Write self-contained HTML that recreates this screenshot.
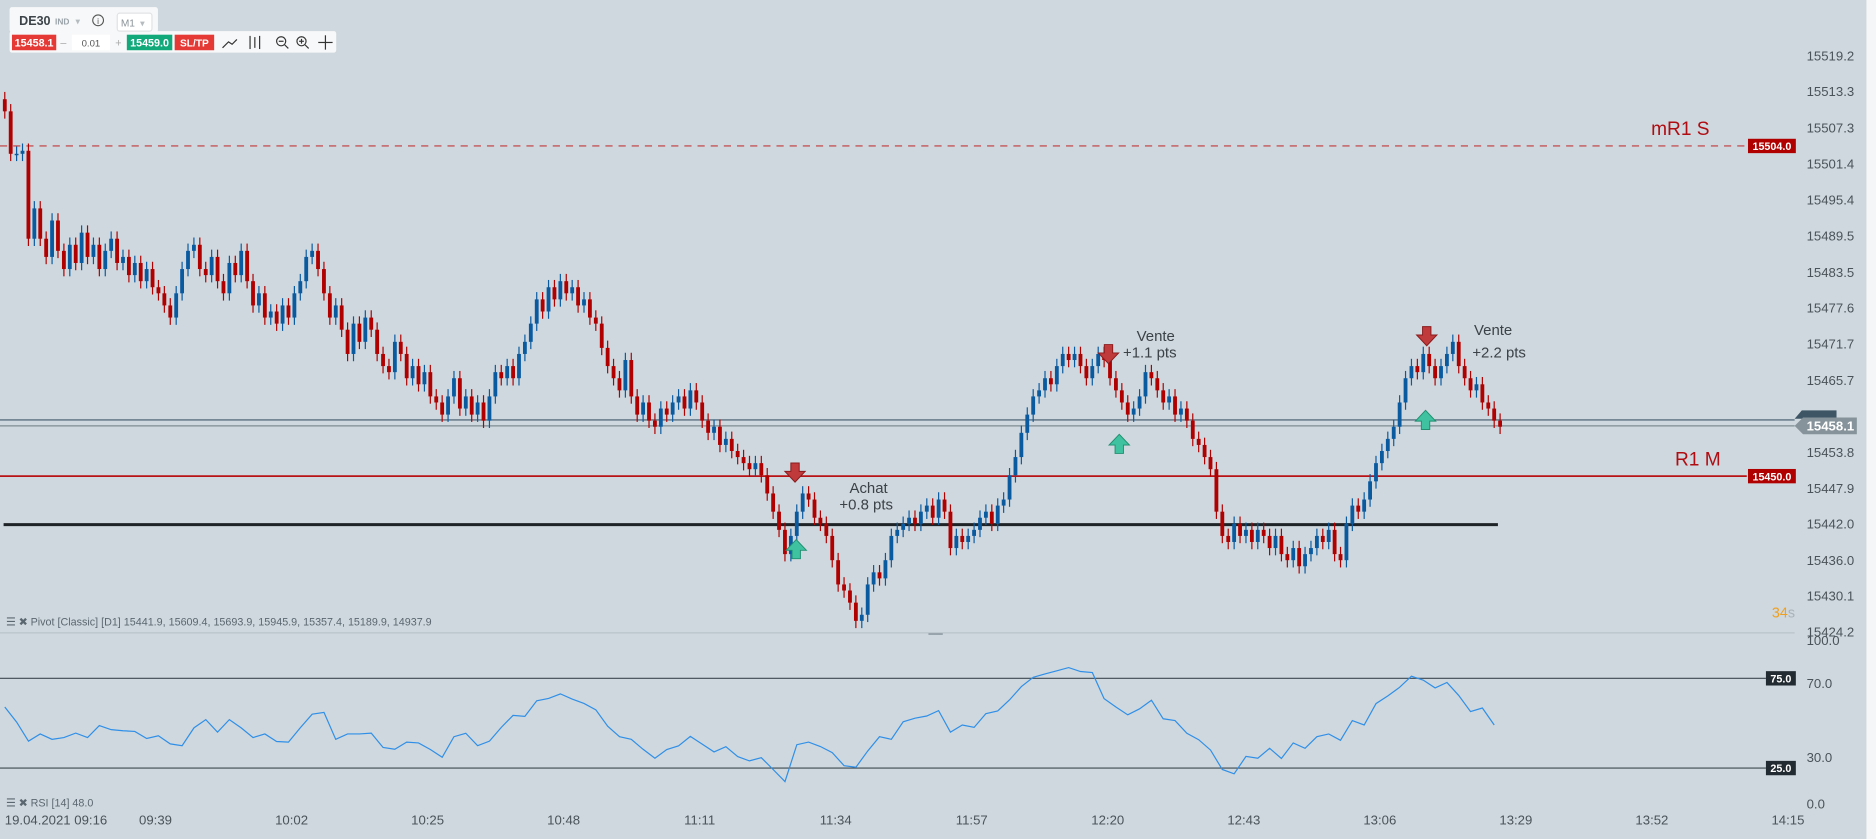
<!DOCTYPE html>
<html><head><meta charset="utf-8"><style>
html,body{margin:0;padding:0;background:#cfd8de;overflow:hidden}
svg{display:block;font-family:"Liberation Sans",sans-serif}
</style></head><body>
<svg id="chart" width="1876" height="839" viewBox="0 0 1568 701.3" preserveAspectRatio="none" xmlns="http://www.w3.org/2000/svg">
<rect x="0" y="0" width="1568" height="702" fill="#cfd8de"/>
<rect x="1560" y="0" width="8" height="702" fill="#f4f6f8"/>
<line x1="0" y1="529" x2="1500" y2="529" stroke="#b9c3ca" stroke-width="1"/>
<line x1="776" y1="530" x2="788" y2="530" stroke="#7d8a93" stroke-width="1"/>
<g id="yaxis"></g>
<g id="xaxis"></g>
<g id="levels">
 <line x1="0" y1="122" x2="1460" y2="122" stroke="#c0393b" stroke-width="1" stroke-dasharray="6,5"/>
 <text x="1380" y="113" font-size="16" fill="#b00d12">mR1 S</text>
 <rect x="1461" y="116" width="40" height="12" fill="#b00000"/>
 <text x="1481" y="125.5" font-size="9" font-weight="bold" fill="#fff" text-anchor="middle">15504.0</text>
 <line x1="0" y1="398" x2="1460" y2="398" stroke="#b81216" stroke-width="1.5"/>
 <text x="1400" y="389" font-size="16" fill="#b00d12">R1 M</text>
 <rect x="1461" y="392" width="40" height="12" fill="#b00000"/>
 <text x="1481" y="401.5" font-size="9" font-weight="bold" fill="#fff" text-anchor="middle">15450.0</text>
 <line x1="3" y1="438.5" x2="1252" y2="438.5" stroke="#1e2327" stroke-width="2.5"/>
 <line x1="0" y1="351" x2="1500" y2="351" stroke="#40596a" stroke-width="1"/>
 <line x1="0" y1="356" x2="1500" y2="356" stroke="#7f8d94" stroke-width="1"/>
 <polygon points="1500,350 1506,343 1535,343 1535,350" fill="#3e5566"/>
 <polygon points="1500,356 1507,349 1552,349 1552,363 1507,363" fill="#86939a"/>
 <text x="1510" y="360" font-size="11" font-weight="bold" fill="#fff">15458.1</text>
</g>
<g id="candles"></g>
<g id="annotations">
 <g fill="#c0393b" stroke="#8a1a1c" stroke-width="0.8">
  <path d="M661,387 h7 v7 h5 l-8.5,9 l-8.5,-9 h5z"/>
  <path d="M923,288 h7 v7 h5 l-8.5,9 l-8.5,-9 h5z"/>
  <path d="M1189,273 h7 v7 h5 l-8.5,9 l-8.5,-9 h5z"/>
 </g>
 <g fill="#3fc2a0" stroke="#1f8f70" stroke-width="0.8">
  <path d="M662,467 h7 v-7 h5 l-8.5,-9 l-8.5,9 h5z"/>
  <path d="M932,379 h7 v-7 h5 l-8.5,-9 l-8.5,9 h5z"/>
  <path d="M1188,359 h7 v-7 h5 l-8.5,-9 l-8.5,9 h5z"/>
 </g>
 <g font-size="12.5" fill="#3b4248" text-anchor="middle">
  <text x="726" y="412">Achat</text>
  <text x="724" y="426">+0.8 pts</text>
  <text x="966" y="285">Vente</text>
  <text x="961" y="299">+1.1 pts</text>
  <text x="1248" y="280">Vente</text>
  <text x="1253" y="299">+2.2 pts</text>
 </g>
</g>
<text x="5" y="523" font-size="9" fill="#5b6770">☰ ✖ Pivot [Classic] [D1] 15441.9, 15609.4, 15693.9, 15945.9, 15357.4, 15189.9, 14937.9</text>
<text x="1481" y="516" font-size="12" fill="#f0a020">34<tspan fill="#a9b2b8">s</tspan></text>
<g id="rsi">
 <line x1="0" y1="567" x2="1476" y2="567" stroke="#3d4850" stroke-width="1"/>
 <line x1="0" y1="642" x2="1476" y2="642" stroke="#3d4850" stroke-width="1"/>
 <rect x="1476" y="561" width="25" height="12" fill="#222b31"/>
 <text x="1488.5" y="570.5" font-size="9" font-weight="bold" fill="#fff" text-anchor="middle">75.0</text>
 <rect x="1476" y="636" width="25" height="12" fill="#222b31"/>
 <text x="1488.5" y="645.5" font-size="9" font-weight="bold" fill="#fff" text-anchor="middle">25.0</text>
 <text x="1510" y="539" font-size="11" fill="#4a5359">100.0</text>
 <text x="1510" y="575" font-size="11" fill="#4a5359">70.0</text>
 <text x="1510" y="637" font-size="11" fill="#4a5359">30.0</text>
 <text x="1510" y="676" font-size="11" fill="#4a5359">0.0</text>
 <text x="5" y="674" font-size="9" fill="#5b6770">☰ ✖ RSI [14] 48.0</text>
</g>
<g id="toolbar">
 <rect x="8" y="6" width="124" height="21" rx="2" fill="#f7f8f9"/>
 <rect x="8" y="26" width="273" height="18" rx="2" fill="#f7f8f9"/>
 <text x="16" y="21" font-size="10.5" font-weight="bold" fill="#3c4449">DE30</text>
 <text x="46" y="20.5" font-size="7" font-weight="bold" fill="#9aa3a9">IND</text>
 <text x="63" y="20.5" font-size="8" fill="#b5bcc0">▾</text>
 <circle cx="82" cy="17" r="4.5" fill="none" stroke="#555" stroke-width="0.9"/>
 <text x="82" y="20" font-size="7" fill="#555" text-anchor="middle">i</text>
 <rect x="98" y="11" width="29" height="15" rx="2" fill="#fff" stroke="#e0e3e5"/>
 <text x="101" y="22" font-size="8.5" fill="#8a9399">M1</text>
 <text x="117" y="22" font-size="8" fill="#b5bcc0">▾</text>
 <rect x="10" y="29" width="37" height="13" fill="#e53935"/>
 <text x="28.5" y="38.8" font-size="9" font-weight="bold" fill="#fff" text-anchor="middle">15458.1</text>
 <text x="53" y="38.8" font-size="9" fill="#aaa" text-anchor="middle">–</text>
 <rect x="60" y="29" width="32" height="13" fill="#fff"/>
 <text x="76" y="38.8" font-size="8" fill="#555" text-anchor="middle">0.01</text>
 <text x="99" y="38.8" font-size="9" fill="#aaa" text-anchor="middle">+</text>
 <rect x="106" y="29" width="38" height="13" fill="#11a97a"/>
 <text x="125" y="38.8" font-size="9" font-weight="bold" fill="#fff" text-anchor="middle">15459.0</text>
 <rect x="146" y="29" width="33" height="13" fill="#e53935"/>
 <text x="162.5" y="38.8" font-size="8.5" font-weight="bold" fill="#fff" text-anchor="middle">SL/TP</text>
 <polyline points="186,40 191,35 194,37 198,33" fill="none" stroke="#333" stroke-width="1"/>
 <g stroke="#333" stroke-width="1"><line x1="209" y1="30" x2="209" y2="41"/><line x1="213" y1="31" x2="213" y2="40"/><line x1="217" y1="30" x2="217" y2="41"/></g>
 <g fill="none" stroke="#333" stroke-width="1">
  <g><circle cx="235" cy="34.5" r="3.8"/><line x1="238" y1="37.5" x2="241" y2="40.5"/><line x1="233" y1="34.5" x2="237" y2="34.5"/></g>
  <g><circle cx="252" cy="34.5" r="3.8"/><line x1="255" y1="37.5" x2="258" y2="40.5"/><line x1="250" y1="34.5" x2="254" y2="34.5"/><line x1="252" y1="32.5" x2="252" y2="36.5"/></g>
  <g><line x1="266" y1="35.5" x2="278" y2="35.5"/><line x1="272" y1="29.5" x2="272" y2="41.5"/></g>
 </g>
</g>
</svg>
<script>
// price data (one candle per minute, close prices)
const closes = [15510,15503,15503,15503.5,15489,15494,15489,15486,15492,15487,15484,
15488,15485,15490,15486,15488,15484,15487,15489,15485,15486,15483,15485,15482,15484,15481,
15480,15478,15476,15480,15484,15487,15488,15484,15483,15486,15482,15480,15485,15483,15487,
15482,15478,15480,15476,15477,15475,15478,15476,15480,15482,15486,15487,15484,15480,
15476,15478,15474,15470,15475,15472,15476,15474,15470,15468,15467,15472,
15470,15466,15468,15465,15467,15463,15462,15460,15463,15466,15461,15463,
15460,15462,15459,15463,15467,15466,15468,15466,15470,15472,15475,15479,
15477,15481,15479,15482,15480,15481,15478,15479,15476,15475,15471,15468,
15466,15464,15469,15463,15460,15462,15459,15458,15461,15460,15462,15463,
15461,15464,15462,15459,15457,15458,15455,15456,15454,15453,15452,15451,
15452,15450,15447,15444,15441,15437,15440,15444,15447,15446,15443,15442,
15440,15436,15432,15431,15429,15426,15427,15432,15434,15433,15436,15440,
15441,15442,15443,15442,15444,15445,15443,15446,15444,15438,15440,15439,
15440,15441,15443,15444,15442,15445,15446,15450,15453,15457,15460,15463,
15464,15466,15465,15468,15470,15469,15470,15468,15466,15468,15470,15469,
15466,15464,15462,15460,15461,15463,15467,15466,15464,15462,15463,15460,
15461,15459,15456,15455,15453,15451,15444,15440,15439,15442,15440,15441,
15439,15441,15440,15438,15440,15437,15436,15438,15435,15437,15438,15440,
15439,15441,15437,15436,15442,15445,15444,15446,15449,15452,15454,15456,
15458,15462,15466,15468,15467,15470,15468,15466,15468,15470,15472,15468,
15466,15464,15465,15462,15461,15459,15458];
const openFirst = 15512;
const wick = 1.2;
// RSI sampled every 2 candles
const rsiValues = [59,50.6,40,44,41,42,44.5,42,48.7,46.4,45.8,45.4,41.5,43,38.5,37.5,47.4,52,45,52,
47.4,42,44,39.8,39.5,47.5,55,56,41,44,44,44.5,36.5,35.5,39.5,39,35.3,31,42.5,44.4,
37.5,40,47.7,54.3,53.8,62.5,63.8,66.3,63.5,61,57.5,48.3,42.5,41,35.5,30.5,35.3,37.4,42.7,38.3,
34,36.9,31.4,29,30.8,24.2,17.5,38,39.5,37,33.6,26.3,25.5,34.5,42.5,41,50.8,52.8,54,57,
45,49,47.7,55.3,56.8,63,70.4,75.6,77.5,79.2,81,78.8,78.2,63.7,59,54.7,58,62.8,52.5,51.5,
44.4,40.8,35,24.2,21.8,31.5,30.5,36,30.3,39,36,42.5,44,40.5,51.5,49,60.9,65.2,70,76.2,
74,69.7,72.7,65.5,56.5,58.5,49];
const rsiStep = 2;
const priceTicks = ["15519.2","15513.3","15507.3","15501.4","15495.4","15489.5","15483.5","15477.6","15471.7","15465.7","15453.8","15447.9","15442.0","15436.0","15430.1","15424.2"];
const timeTicks = ["09:39","10:02","10:25","10:48","11:11","11:34","11:57","12:20","12:43","13:06","13:29","13:52","14:15"];

const NS="http://www.w3.org/2000/svg";
const x0=4, dx=4.94;
const xs=i=>x0+i*dx;
const yp=p=>378+(15453.8-p)*5.07;
const yr=v=>679.5-v*1.5;
const timeX=k=>130+k*113.7;
function mk(tag,attrs,parent){const e=document.createElementNS(NS,tag);for(const k in attrs)e.setAttribute(k,attrs[k]);parent.appendChild(e);return e;}

const ya=document.getElementById('yaxis');
priceTicks.forEach(t=>{
 const e=mk('text',{x:1510,y:yp(parseFloat(t))+4,'font-size':11,fill:'#4a5359'},ya);
 
 
 e.textContent=t;
});
const xa=document.getElementById('xaxis');
const d0=mk('text',{x:4,y:689,'font-size':11,fill:'#4a5359'},xa);


d0.textContent='19.04.2021 09:16';
timeTicks.forEach((t,k)=>{
 const e=mk('text',{x:timeX(k),y:689,'font-size':11,fill:'#4a5359','text-anchor':'middle'},xa);
 
 
 e.textContent=t;
});

const cg=document.getElementById('candles');
closes.forEach((c,i)=>{
 const o=i===0?openFirst:closes[i-1];
 const col=c>=o?'#0a5aa0':'#b00000';
 const hi=Math.max(o,c)+wick, lo=Math.min(o,c)-wick;
 const w=mk('line',{x1:xs(i),x2:xs(i),y1:yp(hi),y2:yp(lo),stroke:col,'stroke-width':1},cg);
 
 
 const top=yp(Math.max(o,c)), h=Math.max(1.2,yp(Math.min(o,c))-top);
 const b=mk('rect',{x:xs(i)-1.6,y:top,width:3.2,height:h,fill:col},cg);
 
 
});

const rg=document.getElementById('rsi');
const pts=rsiValues.map((v,k)=>xs(k*rsiStep).toFixed(1)+','+yr(v).toFixed(1)).join(' ');
const rl=mk('polyline',{points:pts,fill:'none',stroke:'#2f8fe8','stroke-width':1},rg);


</script>
</body></html>
